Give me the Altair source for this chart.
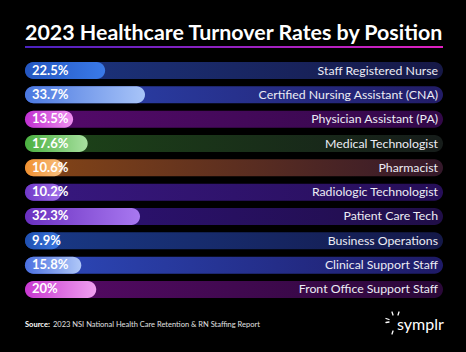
import altair as alt
import pandas as pd

# ---------------- data ----------------
positions = [
    "Staff Registered Nurse",
    "Certified Nursing Assistant (CNA)",
    "Physician Assistant (PA)",
    "Medical Technologist",
    "Pharmacist",
    "Radiologic Technologist",
    "Patient Care Tech",
    "Business Operations",
    "Clinical Support Staff",
    "Front Office Support Staff",
]
rates = [22.5, 33.7, 13.5, 17.6, 10.6, 10.2, 32.3, 9.9, 15.8, 20.0]
rate_labels = ["22.5%", "33.7%", "13.5%", "17.6%", "10.6%", "10.2%", "32.3%", "9.9%", "15.8%", "20%"]

bar_left = ["#2456c0", "#4a78e0", "#c030d0", "#4ab040", "#f09030", "#7038c8", "#6a30c0", "#1f4fb0", "#4a70e0", "#c838d0"]
bar_right = ["#3a7ae8", "#a8c4f8", "#f090f0", "#a8e0a0", "#f8c080", "#a070e8", "#a878f0", "#3a78e0", "#b0c8f8", "#f0a0f0"]
track_left = ["#1c3682", "#2c46b4", "#560a6c", "#1d4618", "#864616", "#381880", "#2e1278", "#193a88", "#2d4abc", "#580a68"]
track_right = ["#161846", "#221c66", "#320848", "#161c1a", "#34182a", "#260e58", "#200e48", "#141848", "#1e1a66", "#2a0838"]

title_text = "2023 Healthcare Turnover Rates by Position"
source_bold = "Source:"
source_text = "2023 NSI National Health Care Retention & RN Staffing Report"
logo_text = "symplr"

XMAX = 117.4
FONT = "Lato"

df = pd.DataFrame({
    "position": positions,
    "rate": rates,
    "label": rate_labels,
    "zero": [0.0] * len(positions),
    "full": [XMAX] * len(positions),
})

x_scale = alt.Scale(domain=[0, XMAX], range=[25, 443])
y_scale = alt.Scale(domain=positions, range=[62, 298], paddingInner=0.3, paddingOuter=0)


def grad(c0, c1):
    return alt.Gradient(
        gradient="linear", x1=0, x2=1, y1=0, y2=0,
        stops=[alt.GradientStop(offset=0, color=c0), alt.GradientStop(offset=1, color=c1)],
    )


base = alt.Chart(df)
Y = alt.Y("position:N", scale=y_scale, axis=None)

layers = []
for i, pos in enumerate(positions):
    flt = alt.datum.position == pos
    track = base.mark_bar(cornerRadius=8.5, color=grad(track_left[i], track_right[i])).encode(
        x=alt.X("zero:Q", scale=x_scale, axis=None), x2="full:Q", y=Y
    ).transform_filter(flt)
    bar = base.mark_bar(cornerRadius=8.5, color=grad(bar_left[i], bar_right[i])).encode(
        x=alt.X("zero:Q", scale=x_scale, axis=None), x2="rate:Q", y=Y
    ).transform_filter(flt)
    layers += [track, bar]

values = base.mark_text(
    align="left", baseline="middle", dx=7, font=FONT, fontWeight="bold", fontSize=13, color="white"
).encode(x=alt.X("zero:Q", scale=x_scale, axis=None), y=Y, text="label:N")

names = base.mark_text(
    align="right", baseline="middle", dx=-5, font=FONT, fontSize=12.3, color="#ececf4"
).encode(x=alt.X("full:Q", scale=x_scale, axis=None), y=Y, text="position:N")

one = pd.DataFrame({"t": [title_text], "s": [source_bold], "r": [source_text], "l": [logo_text]})
deco = alt.Chart(one)

title = deco.mark_text(
    align="left", baseline="alphabetic", font=FONT, fontWeight="bold", fontSize=21.4, color="white"
).encode(x=alt.value(25), y=alt.value(40), text="t:N")

underline = deco.mark_rect(color=grad("#4a22c0", "#e020c0")).encode(
    x=alt.value(25), x2=alt.value(443), y=alt.value(46), y2=alt.value(48)
)

src_b = deco.mark_text(
    align="left", baseline="middle", font=FONT, fontWeight="bold", fontSize=7.5, color="white"
).encode(x=alt.value(25), y=alt.value(325), text="s:N")
src_r = deco.mark_text(
    align="left", baseline="middle", font=FONT, fontSize=7.5, color="#e0e0e0"
).encode(x=alt.value(53), y=alt.value(325), text="r:N")

logo = deco.mark_text(
    align="left", baseline="middle", font=FONT, fontSize=16, color="white"
).encode(x=alt.value(397), y=alt.value(325), text="l:N")

rays = []
for (xa, ya, xb, yb) in [(386, 318.5, 389, 319.5), (386, 322.5, 389, 322), (392, 312, 393, 315), (399, 312, 398, 315), (393, 331, 392, 334)]:
    rays.append(deco.mark_rule(color="white", strokeWidth=1.3, strokeCap="round").encode(
        x=alt.value(xa), y=alt.value(ya), x2=alt.value(xb), y2=alt.value(yb)
    ))

chart = alt.layer(*layers, values, names, title, underline, src_b, src_r, logo, *rays).properties(
    width=466, height=352, padding=0, autosize=alt.AutoSizeParams(type="none"), background="black"
).configure_view(stroke=None)

chart.save("out.html", embed_options={"renderer": "svg", "actions": False})
